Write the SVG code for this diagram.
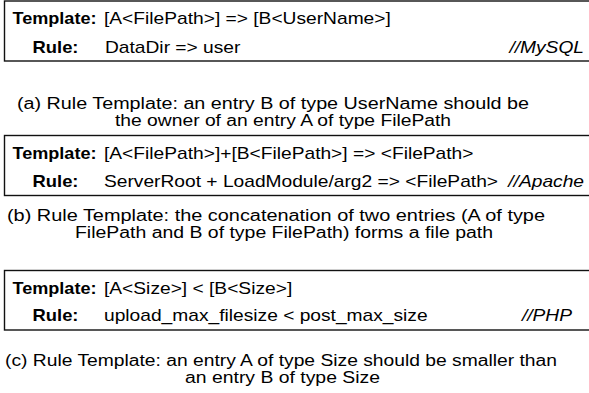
<svg xmlns="http://www.w3.org/2000/svg" width="589" height="393" viewBox="0 0 589 393">
<style>
text{font-family:"Liberation Sans",Arial,Helvetica,sans-serif;font-size:16px;fill:#000}
.b{font-weight:bold}
.i{font-style:italic}
.box{fill:#fff;stroke:#111;stroke-width:1.4}
</style>
<rect width="589" height="393" fill="#fff"/>
<g id="box-a">
<rect class="box" x="4.5" y="1" width="600" height="60"/>
<text class="b" transform="translate(12.5 24) scale(1.13 1)">Template:</text>
<text transform="translate(104 24) scale(1.2 1)">[A&lt;FilePath&gt;] =&gt; [B&lt;UserName&gt;]</text>
<text class="b" transform="translate(32.5 52.5) scale(1.15 1)">Rule:</text>
<text transform="translate(105 52.5) scale(1.2 1)">DataDir =&gt; user</text>
<text class="i" text-anchor="end" transform="translate(584 52.5) scale(1.2 1)">//MySQL</text>
</g>
<g id="caption-a">
<text x="17" y="109" textLength="512" lengthAdjust="spacingAndGlyphs">(a) Rule Template: an entry B of type UserName should be</text>
<text x="115" y="126" textLength="336" lengthAdjust="spacingAndGlyphs">the owner of an entry A of type FilePath</text>
</g>
<g id="box-b">
<rect class="box" x="4.5" y="135.5" width="600" height="60"/>
<text class="b" transform="translate(12.5 158.5) scale(1.13 1)">Template:</text>
<text transform="translate(104 158.5) scale(1.2 1)">[A&lt;FilePath&gt;]+[B&lt;FilePath&gt;] =&gt; &lt;FilePath&gt;</text>
<text class="b" transform="translate(32.5 186.5) scale(1.15 1)">Rule:</text>
<text transform="translate(104 186.5) scale(1.2 1)">ServerRoot + LoadModule/arg2 =&gt; &lt;FilePath&gt;</text>
<text class="i" text-anchor="end" transform="translate(584 186.5) scale(1.2 1)">//Apache</text>
</g>
<g id="caption-b">
<text x="7" y="221" textLength="538" lengthAdjust="spacingAndGlyphs">(b) Rule Template: the concatenation of two entries (A of type</text>
<text x="75" y="238" textLength="418" lengthAdjust="spacingAndGlyphs">FilePath and B of type FilePath) forms a file path</text>
</g>
<g id="box-c">
<rect class="box" x="4.5" y="270.5" width="600" height="59.5"/>
<text class="b" transform="translate(12.5 293.5) scale(1.13 1)">Template:</text>
<text transform="translate(104 293.5) scale(1.2 1)">[A&lt;Size&gt;] &lt; [B&lt;Size&gt;]</text>
<text class="b" transform="translate(32.5 320.5) scale(1.15 1)">Rule:</text>
<text transform="translate(104 320.5) scale(1.2 1)">upload_max_filesize &lt; post_max_size</text>
<text class="i" text-anchor="end" transform="translate(572 320.5) scale(1.2 1)">//PHP</text>
</g>
<g id="caption-c">
<text x="5" y="366" textLength="552" lengthAdjust="spacingAndGlyphs">(c) Rule Template: an entry A of type Size should be smaller than</text>
<text x="185" y="383" textLength="195" lengthAdjust="spacingAndGlyphs">an entry B of type Size</text>
</g>
</svg>
